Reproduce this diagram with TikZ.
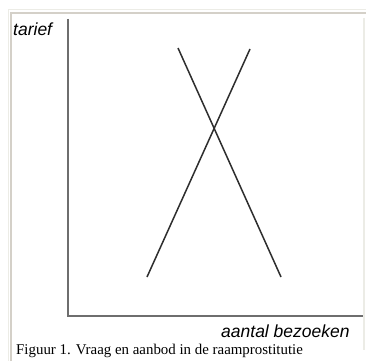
\documentclass[tikz,border=0pt]{standalone}
\usepackage{fontspec}
\setmainfont{Liberation Serif}
\newfontfamily\axisfont{Liberation Sans}
\definecolor{framelight}{HTML}{ECECE6}
\definecolor{framebeige}{HTML}{D4D0C8}
\definecolor{axisgray}{HTML}{6E6E6E}
\definecolor{curvecol}{HTML}{2E2E2E}
\begin{document}
\begin{tikzpicture}[x=1pt,y=-1pt,
  axisline/.style={draw=axisgray,line width=1.3pt},
  curve/.style={draw=curvecol,line width=1.5pt},
  axlabel/.style={font=\axisfont\itshape\fontsize{17.5}{17.5}\selectfont,inner sep=0pt,anchor=base west},
  captext/.style={font=\fontsize{14.9}{14.9}\selectfont,inner sep=0pt,anchor=base west}]
\useasboundingbox[fill=white] (0,0) rectangle (366,361);
% frame
\draw[framelight,line width=1.2pt] (8.5,361) -- (8.5,9.5) -- (366,9.5);
\draw[framebeige,line width=2pt] (11,361) -- (11,13) -- (366,13);
\draw[framelight,line width=1.2pt] (364,18) -- (364,350);
% axes
\coordinate (ytop) at (68,19);
\coordinate (origin) at (68,316);
\coordinate (xend) at (363,316);
\draw[axisline] (ytop) -- (origin) -- (xend);
% curves
\coordinate (dtop) at (178,48);
\coordinate (dbot) at (281,277);
\coordinate (stop) at (250,49);
\coordinate (sbot) at (147,277);
\draw[curve] (dtop) -- (dbot);
\draw[curve] (sbot) -- (stop);
% labels
\node[axlabel] (tarief) at (13,35) {tarief};
\node[axlabel] (aantal) at (221,337.5) {aantal bezoeken};
\node[captext] (cap) at (16,354) {Figuur 1. Vraag en aanbod in de raamprostitutie};
\end{tikzpicture}
\end{document}
